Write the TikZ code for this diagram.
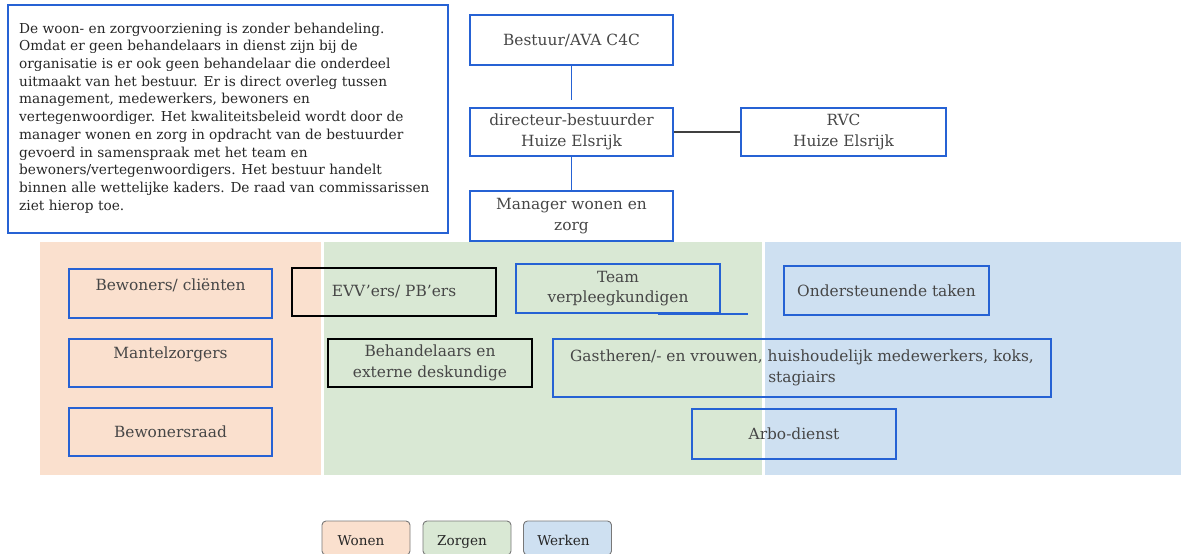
\documentclass[tikz,border=0pt]{standalone}
\usepackage{fontspec}
\setmainfont{DejaVu Serif}
\definecolor{bblue}{RGB}{38,98,212}
\definecolor{txt}{RGB}{70,70,70}
\definecolor{wonen}{RGB}{250,224,206}
\definecolor{zorgen}{RGB}{217,232,212}
\definecolor{werken}{RGB}{206,224,241}
\definecolor{lgray}{RGB}{120,120,120}
\begin{document}
\begin{tikzpicture}[x=1pt,y=-1pt,
  bx/.style={draw=bblue, line width=2.3pt, text=txt, align=center, inner sep=0pt,
    font=\fontsize{15.4}{20.5}\selectfont},
  blk/.style={bx, draw=black},
  lbl/.style={text=txt, align=center, inner sep=0pt, font=\fontsize{15.4}{20.5}\selectfont},
  leg/.style={draw=lgray, line width=0.9pt, rounded corners=4pt, text=black!85,
    font=\fontsize{13.6}{16}\selectfont, inner sep=0pt, minimum width=88pt, minimum height=34pt,
    text height=14pt, text depth=0pt},
  conn/.style={bblue, line width=1.3pt},
  gconn/.style={black!75, line width=1.1pt}]
\useasboundingbox (0,0) rectangle (1181,554);
% panels
\fill[wonen] (40,242) rectangle (321,475);
\fill[zorgen] (324,242) rectangle (762,475);
\fill[werken] (765,242) rectangle (1181,475);
% text box
\node[draw=bblue, line width=1.3pt, minimum width=440pt, minimum height=228pt, inner sep=0pt] (info) at (228,119) {};
\node[anchor=north west, inner sep=0pt, align=left, text=black!85,
  font=\fontsize{13.7}{17.7}\selectfont] (infotext) at (19,22.5) {De woon- en zorgvoorziening is zonder behandeling.\\
Omdat er geen behandelaars in dienst zijn bij de\\
organisatie is er ook geen behandelaar die onderdeel\\
uitmaakt van het bestuur. Er is direct overleg tussen\\
management, medewerkers, bewoners en\\
vertegenwoordiger. Het kwaliteitsbeleid wordt door de\\
manager wonen en zorg in opdracht van de bestuurder\\
gevoerd in samenspraak met het team en\\
bewoners/vertegenwoordigers. Het bestuur handelt\\
binnen alle wettelijke kaders. De raad van commissarissen\\
ziet hierop toe.};
% top hierarchy
\node[bx, minimum width=203pt, minimum height=50pt] (bestuur) at (571.5,40) {Bestuur/AVA C4C};
\node[bx, minimum width=203pt, minimum height=48pt] (dir) at (571.5,132) {directeur-bestuurder\\Huize Elsrijk};
\node[bx, minimum width=205pt, minimum height=48pt] (rvc) at (843.5,132) {RVC\\Huize Elsrijk};
\node[bx, minimum width=203pt, minimum height=50pt] (man) at (571.5,216) {Manager wonen en\\zorg};
\coordinate (dirtop) at (571.5,100);
\draw[conn] (bestuur.south) -- (dirtop);
\draw[conn] (dir.south) -- (man.north);
\draw[gconn] (dir.east) -- (rvc.west);
% wonen column
\node[bx, minimum width=203pt, minimum height=49pt] (bew) at (170.5,293.5) {};
\node[lbl] (bewt) at (170.5,285) {Bewoners/ cliënten};
\node[bx, minimum width=203pt, minimum height=48pt] (mantel) at (170.5,363) {};
\node[lbl] (mantelt) at (170.5,354) {Mantelzorgers};
\node[bx, minimum width=203pt, minimum height=48pt] (raad) at (170.5,432) {Bewonersraad};
% zorgen
\node[blk, minimum width=204pt, minimum height=48pt] (evv) at (394,292) {EVV’ers/ PB’ers};
\node[blk, minimum width=204pt, minimum height=48pt] (behan) at (430,363) {Behandelaars en\\externe deskundige};
\node[bx, minimum width=204pt, minimum height=49pt] (team) at (618,288.5) {Team\\verpleegkundigen};
\coordinate (tl1) at (658,314);
\coordinate (tl2) at (748,314);
\draw[bblue, line width=1.2pt] (tl1) -- (tl2);
% werken
\node[bx, minimum width=205pt, minimum height=49pt] (onder) at (886.5,290.5) {Ondersteunende taken};
\node[bx, minimum width=498pt, minimum height=58pt] (gast) at (802,368) {Gastheren/- en vrouwen, huishoudelijk medewerkers, koks,\\stagiairs};
\node[bx, minimum width=204pt, minimum height=50pt] (arbo) at (794,434) {Arbo-dienst};
% legend
\node[leg, fill=wonen] (lwonen) at (366,538) {\hspace*{-10pt}Wonen};
\node[leg, fill=zorgen] (lzorgen) at (467,538) {\hspace*{-10pt}Zorgen};
\node[leg, fill=werken] (lwerken) at (567.5,538) {\hspace*{-8pt}Werken};
\end{tikzpicture}
\end{document}
